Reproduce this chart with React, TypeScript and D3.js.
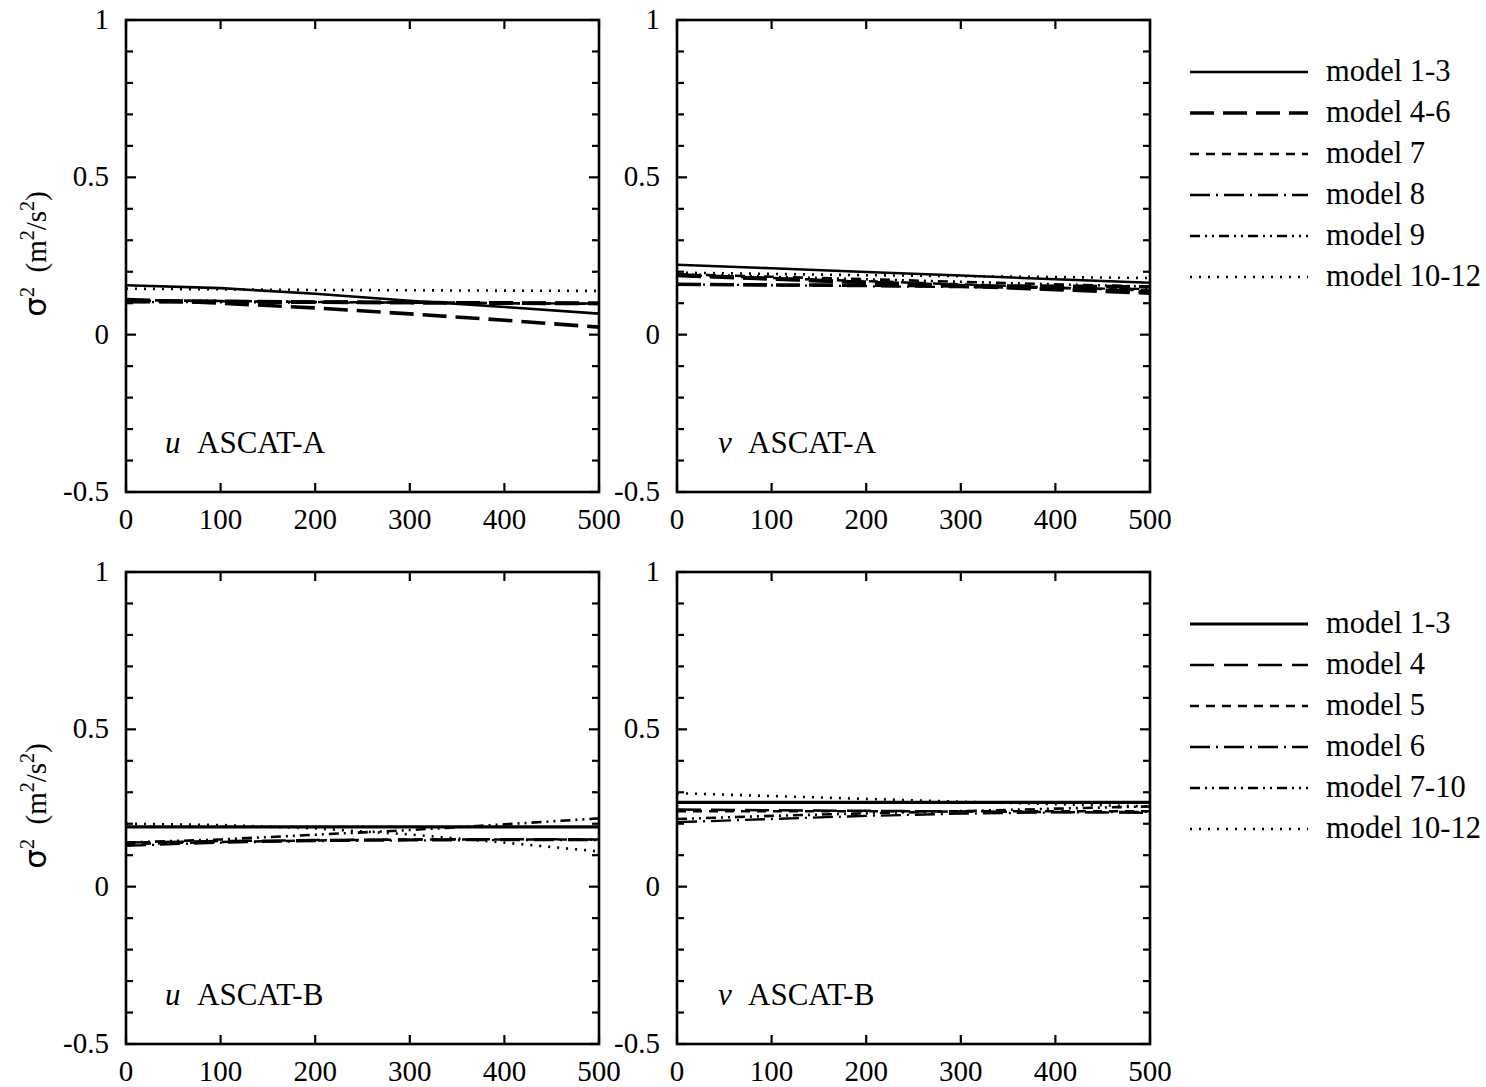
import * as d3 from "d3";

const distances = [0, 100, 200, 300, 400, 500];

// u ASCAT-A
const uA_m1_3 = [0.157, 0.148, 0.130, 0.108, 0.088, 0.067];
const uA_m4 = [0.105, 0.104, 0.103, 0.102, 0.101, 0.100];
const uA_m5 = [0.112, 0.100, 0.085, 0.066, 0.046, 0.024];
const uA_m6 = [0.108, 0.106, 0.104, 0.102, 0.100, 0.099];
const uA_m7 = [0.108, 0.106, 0.104, 0.102, 0.100, 0.098];
const uA_m8 = [0.104, 0.103, 0.102, 0.101, 0.100, 0.099];
const uA_m9 = [0.110, 0.107, 0.104, 0.102, 0.100, 0.098];
const uA_m10_12 = [0.146, 0.144, 0.142, 0.141, 0.140, 0.139];

// v ASCAT-A
const vA_m1_3 = [0.222, 0.211, 0.199, 0.188, 0.176, 0.165];
const vA_m4 = [0.190, 0.178, 0.166, 0.155, 0.143, 0.132];
const vA_m5 = [0.160, 0.158, 0.157, 0.155, 0.154, 0.152];
const vA_m6 = [0.188, 0.177, 0.166, 0.156, 0.146, 0.136];
const vA_m7 = [0.190, 0.180, 0.170, 0.160, 0.150, 0.140];
const vA_m8 = [0.160, 0.157, 0.154, 0.151, 0.148, 0.145];
const vA_m9 = [0.192, 0.184, 0.176, 0.168, 0.160, 0.153];
const vA_m10_12 = [0.197, 0.193, 0.189, 0.186, 0.183, 0.180];

// u ASCAT-B
const uB_m1_3 = [0.190, 0.190, 0.190, 0.190, 0.190, 0.190];
const uB_m4 = [0.140, 0.145, 0.148, 0.150, 0.151, 0.150];
const uB_m5 = [0.135, 0.142, 0.147, 0.150, 0.150, 0.150];
const uB_m6 = [0.130, 0.140, 0.145, 0.147, 0.148, 0.148];
const uB_m7_10 = [0.140, 0.150, 0.165, 0.180, 0.198, 0.217];
const uB_m10_12 = [0.200, 0.196, 0.185, 0.166, 0.140, 0.112];

// v ASCAT-B
const vB_m1_3 = [0.268, 0.268, 0.268, 0.268, 0.268, 0.268];
const vB_m4 = [0.245, 0.243, 0.241, 0.239, 0.237, 0.235];
const vB_m5 = [0.240, 0.240, 0.240, 0.240, 0.240, 0.240];
const vB_m6 = [0.205, 0.215, 0.225, 0.232, 0.236, 0.238];
const vB_m7_10 = [0.215, 0.225, 0.233, 0.240, 0.248, 0.255];
const vB_m10_12 = [0.297, 0.288, 0.279, 0.270, 0.262, 0.255];

const legendA = ["model 1-3", "model 4-6", "model 7", "model 8", "model 9", "model 10-12"];
const legendB = ["model 1-3", "model 4", "model 5", "model 6", "model 7-10", "model 10-12"];

const xTicks = [0, 100, 200, 300, 400, 500];
const yMajor = [-0.5, 0, 0.5, 1];
const yLabels = ["-0.5", "0", "0.5", "1"];
const yMinor = d3.range(-5, 11).map((i) => i / 10);

type LineStyle = { dash: string; width: number };
const styles: { [k: string]: LineStyle } = {
  solid: { dash: "none", width: 2.6 },
  solidThick: { dash: "none", width: 3.2 },
  longThick: { dash: "24,9", width: 3.6 },
  long: { dash: "24,10", width: 2.5 },
  dashed: { dash: "9,7", width: 2.5 },
  dashdot: { dash: "20,6,2,6", width: 2.3 },
  dashdotdot: { dash: "10,5,2,5,2,5", width: 2.6 },
  dotted: { dash: "2,7", width: 2.6 },
};

const legendStylesA = ["solid", "longThick", "dashed", "dashdot", "dashdotdot", "dotted"];
const legendStylesB = ["solidThick", "long", "dashed", "dashdot", "dashdotdot", "dotted"];

const panels = [
  {
    comp: "u", sat: "ASCAT-A", left: 126, top: 20,
    lines: [
      [uA_m7, "dashed"], [uA_m8, "dashdot"], [uA_m9, "dashdotdot"],
      [uA_m4, "longThick"], [uA_m5, "longThick"], [uA_m6, "longThick"],
      [uA_m10_12, "dotted"], [uA_m1_3, "solid"],
    ],
  },
  {
    comp: "v", sat: "ASCAT-A", left: 677, top: 20,
    lines: [
      [vA_m7, "dashed"], [vA_m8, "dashdot"], [vA_m9, "dashdotdot"],
      [vA_m4, "longThick"], [vA_m5, "longThick"], [vA_m6, "longThick"],
      [vA_m10_12, "dotted"], [vA_m1_3, "solid"],
    ],
  },
  {
    comp: "u", sat: "ASCAT-B", left: 126, top: 572,
    lines: [
      [uB_m5, "dashed"], [uB_m6, "dashdot"], [uB_m4, "long"],
      [uB_m7_10, "dashdotdot"], [uB_m10_12, "dotted"], [uB_m1_3, "solidThick"],
    ],
  },
  {
    comp: "v", sat: "ASCAT-B", left: 677, top: 572,
    lines: [
      [vB_m5, "dashed"], [vB_m6, "dashdot"], [vB_m4, "long"],
      [vB_m7_10, "dashdotdot"], [vB_m10_12, "dotted"], [vB_m1_3, "solidThick"],
    ],
  },
];

const W = 473;
const H = 472;
const font = "'Liberation Serif', 'Times New Roman', serif";

function Panel({ p }: { p: any }) {
  const x = d3.scaleLinear().domain([0, 500]).range([0, W]);
  const y = d3.scaleLinear().domain([-0.5, 1]).range([H, 0]);
  const line = d3
    .line<number>()
    .x((_, i) => x(distances[i]))
    .y((d) => y(d));
  return (
    <g transform={`translate(${p.left},${p.top})`}>
      {p.lines.map(([vals, st]: [number[], string], i: number) => (
        <path
          key={i}
          d={line(vals) || ""}
          fill="none"
          stroke="#000"
          strokeWidth={styles[st].width}
          strokeDasharray={styles[st].dash}
        />
      ))}
      {/* frame */}
      <rect x={0} y={0} width={W} height={H} fill="none" stroke="#000" strokeWidth={2.6} />
      {yMinor.map((v) => {
        const len = Math.abs(v * 2 - Math.round(v * 2)) < 1e-6 ? 10 : 7;
        return (
          <g key={v}>
            <line x1={0} x2={len} y1={y(v)} y2={y(v)} stroke="#000" strokeWidth={2.2} />
            <line x1={W} x2={W - len} y1={y(v)} y2={y(v)} stroke="#000" strokeWidth={2.2} />
          </g>
        );
      })}
      {xTicks.map((t) => (
        <g key={t}>
          <line x1={x(t)} x2={x(t)} y1={H} y2={H - 9} stroke="#000" strokeWidth={2.2} />
          <line x1={x(t)} x2={x(t)} y1={0} y2={9} stroke="#000" strokeWidth={2.2} />
          <text x={x(t)} y={H + 37} textAnchor="middle" fontSize={29} fontFamily={font}>
            {t}
          </text>
        </g>
      ))}
      {yMajor.map((v, i) => (
        <text key={v} x={-17} y={y(v) + 9} textAnchor="end" fontSize={29} fontFamily={font}>
          {yLabels[i]}
        </text>
      ))}
      <text x={p.comp === "u" ? 39 : 41} y={433} fontSize={31} fontFamily={font} fontStyle="italic">
        {p.comp}
      </text>
      <text x={71} y={433} fontSize={31} fontFamily={font}>
        {p.sat}
      </text>
    </g>
  );
}

function Legend({ top, labels, st }: { top: number; labels: string[]; st: string[] }) {
  return (
    <g>
      {labels.map((lab, i) => (
        <g key={i} transform={`translate(0,${top + i * 41})`}>
          <line
            x1={1190}
            x2={1308}
            y1={0}
            y2={0}
            stroke="#000"
            strokeWidth={styles[st[i]].width}
            strokeDasharray={styles[st[i]].dash}
          />
          <text x={1326} y={9} fontSize={30.5} fontFamily={font}>
            {lab}
          </text>
        </g>
      ))}
    </g>
  );
}

function YLabel({ cy }: { cy: number }) {
  return (
    <text
      transform={`translate(46,${cy}) rotate(-90)`}
      textAnchor="middle"
      fontSize={29}
      fontFamily={font}
    >
      <tspan fontFamily="'DejaVu Sans', sans-serif" fontSize={31}>σ</tspan>
      <tspan dy={-12} fontSize={20}>2</tspan>
      <tspan dy={12}>{"\u00a0\u00a0(m"}</tspan>
      <tspan dy={-12} fontSize={20}>2</tspan>
      <tspan dy={12}>/s</tspan>
      <tspan dy={-12} fontSize={20}>2</tspan>
      <tspan dy={12}>)</tspan>
    </text>
  );
}

export default function App() {
  return (
    <svg
      width={1486}
      height={1087}
      style={{ position: "absolute", left: 0, top: 0, background: "#fff" }}
    >
      {panels.map((p, i) => (
        <Panel key={i} p={p} />
      ))}
      <Legend top={72} labels={legendA} st={legendStylesA} />
      <Legend top={624} labels={legendB} st={legendStylesB} />
      <YLabel cy={254} />
      <YLabel cy={806} />
    </svg>
  );
}
